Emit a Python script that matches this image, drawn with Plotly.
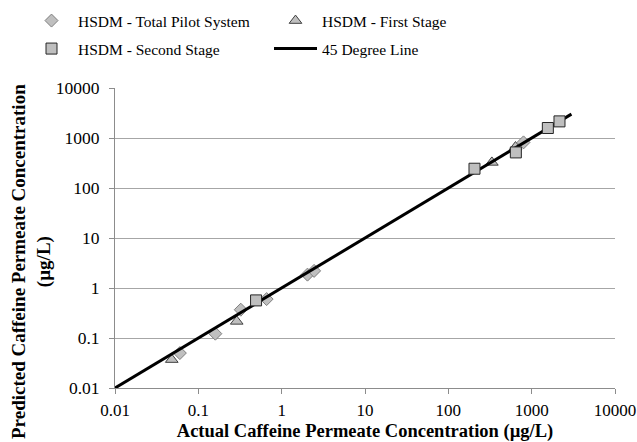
import plotly.graph_objects as go

# Actual vs. predicted caffeine permeate concentrations (ug/L)
total_actual = [0.060, 0.16, 0.323, 0.66, 2.04, 2.45, 798]
total_pred = [0.050, 0.122, 0.368, 0.60, 1.85, 2.20, 817]

first_actual = [0.048, 0.289, 333, 640]
first_pred = [0.037, 0.215, 325, 660]

second_actual = [0.493, 206, 646, 1564, 2157]
second_pred = [0.565, 243, 515, 1585, 2150]

line_x = [0.01, 3000]
line_y = [0.01, 3000]

tick_vals = [0.01, 0.1, 1, 10, 100, 1000, 10000]
tick_text = ["0.01", "0.1", "1", "10", "100", "1000", "10000"]

FONT = "Liberation Serif"
FILL = "#bfbfbf"
W, H = 637, 442

fig = go.Figure()

fig.add_trace(go.Scatter(
    x=first_actual, y=first_pred, mode="markers", name="HSDM - First Stage",
    marker=dict(symbol="triangle-up", size=11, color=FILL,
                line=dict(color="#404040", width=1)),
    legend="legend", legendrank=2,
))
fig.add_trace(go.Scatter(
    x=total_actual, y=total_pred, mode="markers", name="HSDM - Total Pilot System",
    marker=dict(symbol="diamond", size=10, color=FILL,
                line=dict(color="#7f7f7f", width=1)),
    legend="legend", legendrank=1,
))
fig.add_trace(go.Scatter(
    x=line_x, y=line_y, mode="lines", name="45 Degree Line",
    line=dict(color="black", width=3),
    legend="legend2", legendrank=2,
))
fig.add_trace(go.Scatter(
    x=second_actual, y=second_pred, mode="markers", name="HSDM - Second Stage",
    marker=dict(symbol="square", size=11, color=FILL,
                line=dict(color="#262626", width=1)),
    legend="legend2", legendrank=1,
))

legend_common = dict(
    orientation="h", x=25 / W, xanchor="left", xref="container",
    yanchor="middle", yref="container",
    entrywidth=186, itemwidth=43,
    font=dict(family=FONT, size=15.5, color="black"),
    bgcolor="rgba(0,0,0,0)",
)

fig.update_layout(
    width=W, height=H,
    margin=dict(l=115, r=22, t=88, b=54, autoexpand=False),
    paper_bgcolor="white", plot_bgcolor="white",
    font=dict(family=FONT, size=16, color="black"),
    showlegend=True,
    legend=dict(legend_common, y=1 - 21 / H),
    legend2=dict(legend_common, y=1 - 49 / H),
    xaxis=dict(
        type="log", range=[-2, 4], automargin=False,
        tickvals=tick_vals, ticktext=tick_text,
        showgrid=False, zeroline=False,
        showline=True, linecolor="#8c8c8c", linewidth=1,
        ticks="outside", ticklen=5, tickcolor="#8c8c8c",
        tickfont=dict(family=FONT, size=17), ticklabelstandoff=2,
        ticklabeloverflow="allow",
        title=dict(text="<b>Actual Caffeine Permeate Concentration (µg/L)</b>",
                   font=dict(family=FONT, size=18.5), standoff=4),
    ),
    yaxis=dict(
        type="log", range=[-2, 4], automargin=False,
        tickvals=tick_vals, ticktext=tick_text,
        showgrid=True, gridcolor="#a6a6a6", gridwidth=1,
        zeroline=False,
        showline=True, linecolor="#8c8c8c", linewidth=1,
        ticks="outside", ticklen=5, tickcolor="#8c8c8c",
        tickfont=dict(family=FONT, size=17.5), ticklabelstandoff=6,
    ),
    annotations=[dict(
        text="<b>Predicted Caffeine Permeate Concentration<br>(µg/L)</b>",
        textangle=-90, xref="paper", yref="paper",
        x=(31 - 115) / 500, y=(388 - 262) / 300,
        xanchor="center", yanchor="middle", showarrow=False,
        font=dict(family=FONT, size=19),
    )],
)

fig.write_html("out.html")
